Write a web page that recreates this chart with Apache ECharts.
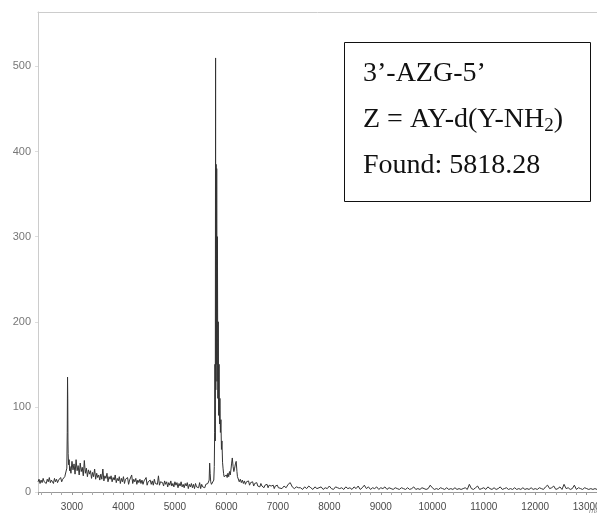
<!DOCTYPE html>
<html>
<head>
<meta charset="utf-8">
<script src="https://cdn.jsdelivr.net/npm/echarts@6/dist/echarts.min.js"></script>
<style>
    html, body { margin: 0; padding: 0; background: #fff; }
    #main { width: 597px; height: 515px; }
</style>
</head>
<body>
<div id="main"></div>
<script>
// m/z sampled on a regular grid: [start, step] + intensities
var lowStart = 2340, lowStep = 20;
var lowBase = [12, 15, 10, 14, 11, 16, 12, 13, 10, 15, 12, 17, 11, 14, 13, 10, 16, 12, 15, 11, 14, 13, 17, 12, 15, 14, 18, 16];

// first peak (explicit m/z, intensity)
var firstPeak = [[2890, 20], [2900, 28], [2908, 70], [2914, 135], [2918, 110], [2922, 60], [2926, 45], [2935, 32], [2945, 38], [2955, 25]];

var decayStart = 2960, decayStep = 20;
var decay = [
    30, 22, 36, 26, 33, 21, 38, 25, 31, 20,
    34, 24, 29, 19, 37, 22, 28, 18, 26, 21,
    25, 16, 23, 18, 27, 15, 22, 17, 20, 14,
    21, 15, 27, 13, 19, 16, 22, 12, 18, 15,
    19, 12, 17, 14, 20, 11, 16, 13, 18, 10,
    16, 12, 18, 10, 15, 13, 17, 9, 14, 12,
    20, 10, 15, 12, 16, 9, 14, 11, 15, 10,
    14, 9, 13, 11, 17, 8, 12, 10, 14, 9,
    13, 8, 15, 10, 12, 9, 19, 8, 12, 10,
    11, 7, 13, 9, 12, 6, 11, 8, 13, 7,
    10, 6, 12, 8, 11, 5, 10, 7, 12, 6,
    9, 5, 10, 7, 11, 4, 9, 6, 10, 5,
    9, 4, 10, 6, 8, 5, 11, 4, 9, 6,
    8, 5, 9, 7, 10
];

// main peak region (explicit m/z, intensity)
var mainPeak = [
    [5655, 8], [5665, 14], [5675, 34], [5685, 22], [5695, 12], [5710, 9], [5725, 11], [5740, 10],
    [5755, 14], [5765, 30], [5772, 70], [5778, 150], [5784, 60], [5790, 510], [5794, 120],
    [5800, 385], [5806, 150], [5812, 380], [5818, 130], [5826, 300], [5834, 110], [5842, 200],
    [5850, 90], [5858, 150], [5866, 80], [5874, 110], [5884, 70], [5894, 85], [5904, 50],
    [5914, 60], [5925, 35], [5935, 28], [5945, 22], [5955, 18], [5970, 20], [5985, 16],
    [6000, 20], [6015, 17], [6030, 22], [6045, 18], [6060, 24], [6075, 20], [6090, 27],
    [6100, 33], [6115, 40], [6130, 30], [6145, 24], [6160, 28], [6175, 33], [6190, 36],
    [6205, 24], [6215, 18]
];

var tailStart = 6230, tailStep = 20;
var tail = [
    17, 12, 15, 11, 14, 10, 13, 9, 12, 10,
    13, 8, 11, 9, 12, 7, 10, 8, 11, 7,
    9, 6, 10, 7, 9, 5, 8, 6, 9, 5,
    8, 6, 7, 5, 8, 4, 7, 5, 8, 5
];

var farStart = 7040, farStep = 40;
var far = [
    6, 4, 7, 5, 9, 11, 6, 4, 6, 5,
    5, 3, 6, 4, 7, 5, 3, 6, 4, 5,
    6, 3, 5, 4, 7, 4, 3, 6, 5, 4,
    5, 3, 6, 4, 5, 3, 6, 4, 7, 3,
    5, 8, 4, 6, 3, 5, 4, 6, 3, 5,
    4, 6, 3, 5, 4, 3, 5, 4, 3, 5,
    4, 3, 5, 3, 4, 6, 3, 4, 3, 5,
    4, 3, 4, 8, 5, 3, 4, 3, 5, 4,
    3, 5, 3, 4, 3, 5, 3, 4, 3, 4,
    5, 3, 9, 4, 3, 5, 7, 3, 4, 5,
    3, 6, 4, 3, 5, 3, 4, 6, 3, 4,
    5, 3, 4, 3, 5, 3, 4, 3, 5, 3,
    4, 3, 5, 3, 4, 3, 5, 4, 3, 6,
    8, 4, 5, 7, 3, 4, 6, 3, 9, 4,
    5, 3, 4, 8, 3, 5, 4, 3, 5, 4,
    3, 4, 3, 4, 3
];

var labelLines = ['3\u2019-AZG-5\u2019', 'Z = AY-d(Y-NH', 'Found: 5818.28'];

function grid(start, step, values) {
    var out = [];
    for (var i = 0; i < values.length; i++) {
        out.push([start + i * step, values[i]]);
    }
    return out;
}

var spectrum = [].concat(
    grid(lowStart, lowStep, lowBase),
    firstPeak,
    grid(decayStart, decayStep, decay),
    mainPeak,
    grid(tailStart, tailStep, tail),
    grid(farStart, farStep, far)
);

var chart = echarts.init(document.getElementById('main'));

var serif = '"Liberation Serif", "Times New Roman", serif';
var sans = '"Liberation Sans", Arial, sans-serif';

chart.setOption({
    animation: false,
    backgroundColor: '#fff',
    grid: {
        left: 38,
        right: 0,
        top: 12,
        bottom: 23,
        containLabel: false,
        outerBoundsMode: 'none'
    },
    xAxis: [
        {
            type: 'value',
            min: 2340,
            max: 13200,
            minInterval: 1000,
            maxInterval: 1000,
            offset: 4,
            axisLine: { lineStyle: { color: '#999', width: 1 } },
            axisTick: { show: true, length: 3, inside: false, lineStyle: { color: '#999' } },
            minorTick: { show: true, splitNumber: 5, length: 3, lineStyle: { color: '#aaa' } },
            axisLabel: {
                color: '#4a4a4a',
                fontSize: 10,
                fontFamily: sans,
                margin: 6,
                showMinLabel: false,
                showMaxLabel: false,
                formatter: function (v) { return String(v); }
            },
            splitLine: { show: false }
        },
        {
            type: 'value',
            position: 'top',
            min: 2340,
            max: 13200,
            axisLine: { show: true, lineStyle: { color: '#ccc', width: 1 } },
            axisTick: { show: false },
            axisLabel: { show: false },
            splitLine: { show: false }
        }
    ],
    yAxis: {
        type: 'value',
        min: 0,
        max: 564,
        interval: 100,
        axisLine: { show: true, lineStyle: { color: '#ccc', width: 1 } },
        axisTick: { show: true, length: 3, lineStyle: { color: '#ddd' } },
        axisLabel: {
            color: '#777',
            fontSize: 11,
            fontFamily: sans,
            margin: 7,
            showMaxLabel: false
        },
        splitLine: { show: false }
    },
    series: [
        {
            type: 'line',
            xAxisIndex: 0,
            data: spectrum,
            showSymbol: false,
            symbol: 'none',
            silent: true,
            lineStyle: { color: '#333', width: 1 }
        }
    ],
    graphic: [
        {
            type: 'rect',
            shape: { x: 344.5, y: 42.5, width: 246, height: 159 },
            style: { fill: '#fff', stroke: '#111', lineWidth: 1 },
            z: 10
        },
        {
            type: 'text',
            x: 363,
            y: 74,
            z: 11,
            style: {
                text: labelLines[0],
                fill: '#111',
                fontSize: 28,
                fontFamily: serif,
                verticalAlign: 'middle'
            }
        },
        {
            type: 'text',
            x: 363,
            y: 120,
            z: 11,
            style: {
                text: '{n|' + labelLines[1] + '}{s|2}{n|)}',
                fill: '#111',
                verticalAlign: 'middle',
                rich: {
                    n: { fontSize: 28, fontFamily: serif, fill: '#111', lineHeight: 32 },
                    s: { fontSize: 19, fontFamily: serif, fill: '#111', lineHeight: 19, verticalAlign: 'bottom' }
                }
            }
        },
        {
            type: 'text',
            x: 363,
            y: 166,
            z: 11,
            style: {
                text: labelLines[2],
                fill: '#111',
                fontSize: 28,
                fontFamily: serif,
                verticalAlign: 'middle'
            }
        },
        {
            type: 'text',
            x: 589,
            y: 507,
            style: {
                text: 'm/z',
                fill: '#888',
                fontSize: 8,
                fontStyle: 'italic',
                fontFamily: sans
            }
        }
    ]
});
</script>
</body>
</html>
